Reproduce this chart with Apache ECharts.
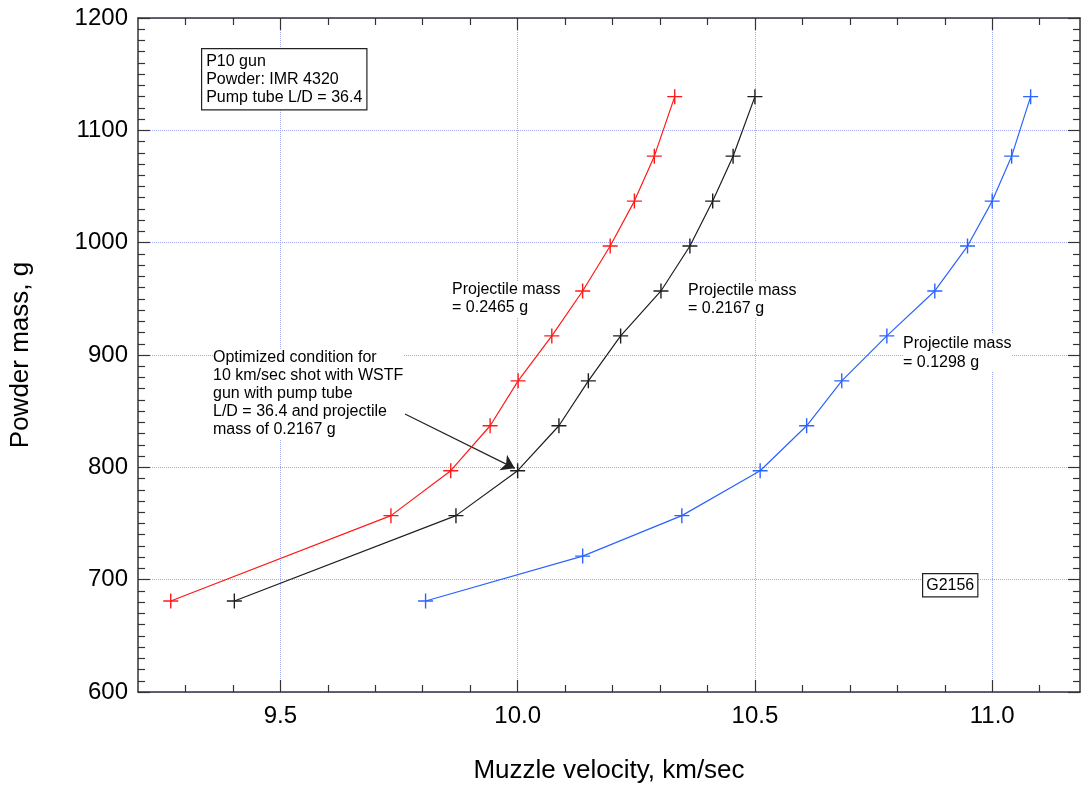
<!DOCTYPE html>
<html>
<head>
<meta charset="utf-8">
<script src="https://cdn.jsdelivr.net/npm/echarts@6/dist/echarts.min.js"></script>
<style>
html,body{margin:0;padding:0;background:#fff;}
#chart{width:1082px;height:793px;}
</style>
</head>
<body>
<div id="chart"></div>
<script>
// ---- data ----
const velRed   = [9.269, 9.733, 9.859, 9.942, 10.001, 10.072, 10.137, 10.195, 10.246, 10.288, 10.331];
const massRed  = [681, 757, 797, 837, 877, 917, 957, 997, 1037, 1077, 1130];
const velBlack  = [9.403, 9.870, 10.000, 10.087, 10.149, 10.217, 10.302, 10.363, 10.411, 10.454, 10.500];
const massBlack = [681, 757, 797, 837, 877, 917, 957, 997, 1037, 1077, 1130];
const velBlue  = [9.806, 10.137, 10.346, 10.511, 10.609, 10.683, 10.778, 10.879, 10.948, 11.000, 11.041, 11.081];
const massBlue = [681, 721, 757, 797, 837, 877, 917, 957, 997, 1037, 1077, 1130];
const xMajorTicks = [9.5, 10.0, 10.5, 11.0];
const xMinorTicks = [9.3, 9.4, 9.6, 9.7, 9.8, 9.9, 10.1, 10.2, 10.3, 10.4, 10.6, 10.7, 10.8, 10.9, 11.1];
const arrowFrom = [9.7626, 847.5];
const arrowTo = [9.994, 799.1];
const infoLines = ['P10 gun', 'Powder: IMR 4320', 'Pump tube L/D = 36.4'];
const noteRed = ['Projectile mass', '= 0.2465 g'];
const noteBlack = ['Projectile mass', '= 0.2167 g'];
const noteBlue = ['Projectile mass', '= 0.1298 g'];
const noteOpt = ['Optimized condition for', '10 km/sec shot with WSTF', 'gun with pump tube', 'L/D = 36.4 and projectile', 'mass of 0.2167 g'];
const figId = 'G2156';

const FONT = '"Liberation Sans", Arial, Helvetica, sans-serif';
const AXC = '#333';
const GRIDC = '#a0a8f0';
const plus = 'path://M0,6.35L14,6.35L14,7.65L0,7.65Z M6.35,0L7.65,0L7.65,14L6.35,14Z';

function zip(xs, ys) { return xs.map((x, i) => [x, ys[i]]); }

function lineSeries(name, xs, ys, color) {
  return {
    name, type: 'line', xAxisIndex: 0, yAxisIndex: 0,
    data: zip(xs, ys),
    symbol: plus, symbolSize: 15,
    itemStyle: { color: color },
    lineStyle: { color: color, width: 1.2 },
    z: 5
  };
}

const xRange = { min: 9.2, max: 11.185 };
const yRange = { min: 600, max: 1200, interval: 100 };

const xBase = (pos, ticks, len, extra) => Object.assign({
  type: 'value', position: pos, gridIndex: 0,
  min: xRange.min, max: xRange.max,
  axisLine: { show: true, onZero: false, lineStyle: { color: AXC, width: 1.5 } },
  axisTick: { show: true, inside: true, length: len, customValues: ticks, lineStyle: { color: AXC, width: 1.2 } },
  axisLabel: { show: false },
  splitLine: { show: false }
}, extra || {});

const chart = echarts.init(document.getElementById('chart'), null, { renderer: 'canvas' });

const option = {
  animation: false,
  backgroundColor: '#fff',
  textStyle: { fontFamily: FONT },
  grid: { left: 138, right: 2, top: 18, bottom: 101, containLabel: false },
  xAxis: [
    xBase('bottom', xMajorTicks, 12, {
      name: 'Muzzle velocity, km/sec', nameLocation: 'middle', nameGap: 66,
      nameTextStyle: { fontSize: 26, color: '#000', fontFamily: FONT },
      axisLabel: { show: true, customValues: xMajorTicks, margin: 12, fontSize: 24, color: '#000', fontFamily: FONT,
        formatter: v => Number(v).toFixed(1) },
      splitLine: { show: true, lineStyle: { color: GRIDC, width: 1, type: [1, 1] } }
    }),
    xBase('bottom', xMinorTicks, 7, { axisLine: { show: false } }),
    xBase('top', xMajorTicks, 12),
    xBase('top', xMinorTicks, 7, { axisLine: { show: false } })
  ],
  yAxis: [
    {
      type: 'value', position: 'left', min: yRange.min, max: yRange.max, interval: yRange.interval,
      name: 'Powder mass, g', nameLocation: 'middle', nameGap: 104,
      nameTextStyle: { fontSize: 26, color: '#000', fontFamily: FONT },
      axisLine: { show: true, onZero: false, lineStyle: { color: AXC, width: 1.5 } },
      axisTick: { show: true, inside: true, length: 12, lineStyle: { color: AXC, width: 1.2 } },
      minorTick: { show: true, splitNumber: 10, length: 7, lineStyle: { color: AXC, width: 1.2 } },
      axisLabel: { show: true, margin: 10, fontSize: 24, color: '#000', fontFamily: FONT,
        formatter: v => String(Math.round(v)) },
      splitLine: { show: true, lineStyle: { color: GRIDC, width: 1, type: [1, 1] } }
    },
    {
      type: 'value', position: 'right', min: yRange.min, max: yRange.max, interval: yRange.interval,
      axisLine: { show: true, onZero: false, lineStyle: { color: AXC, width: 1.5 } },
      axisTick: { show: true, inside: true, length: 12, lineStyle: { color: AXC, width: 1.2 } },
      minorTick: { show: true, splitNumber: 10, length: 7, lineStyle: { color: AXC, width: 1.2 } },
      axisLabel: { show: false },
      splitLine: { show: false }
    }
  ],
  series: [
    lineSeries('0.2465 g', velRed, massRed, '#ff1a1a'),
    Object.assign(lineSeries('0.2167 g', velBlack, massBlack, '#1e1e1e'), {
      markLine: {
        silent: true, animation: false,
        symbol: ['none', 'arrow'], symbolSize: 13,
        label: { show: false },
        lineStyle: { color: '#222', width: 1.2, type: 'solid' },
        data: [[{ coord: arrowFrom }, { coord: arrowTo }]]
      }
    }),
    lineSeries('0.1298 g', velBlue, massBlue, '#2b63ff')
  ],
  graphic: [
    { type: 'text', left: 201, top: 48, z: 20,
      style: { text: infoLines.join('\n'), font: '16px ' + FONT, fill: '#000', lineHeight: 18,
        backgroundColor: '#fff', borderColor: '#222', borderWidth: 1.2, padding: [3, 4, 3, 4] } },
    { type: 'text', left: 452, top: 281, z: 20,
      style: { text: noteRed.join('\n'), font: '16px ' + FONT, fill: '#000', lineHeight: 18, backgroundColor: '#fff' } },
    { type: 'text', left: 688, top: 282, z: 20,
      style: { text: noteBlack.join('\n'), font: '16px ' + FONT, fill: '#000', lineHeight: 18, backgroundColor: '#fff' } },
    { type: 'text', left: 903, top: 334, z: 20,
      style: { text: noteBlue.join('\n'), font: '16px ' + FONT, fill: '#000', lineHeight: 19, backgroundColor: '#fff' } },
    { type: 'text', left: 213, top: 349, z: 20,
      style: { text: noteOpt.join('\n'), font: '16px ' + FONT, fill: '#000', lineHeight: 18, backgroundColor: '#fff' } },
    { type: 'text', left: 922, top: 573, z: 20,
      style: { text: figId, font: '16px ' + FONT, fill: '#000',
        backgroundColor: '#fff', borderColor: '#222', borderWidth: 1.2, padding: [3, 3, 3, 3] } }
  ]
};
chart.setOption(option);
</script>
</body>
</html>
